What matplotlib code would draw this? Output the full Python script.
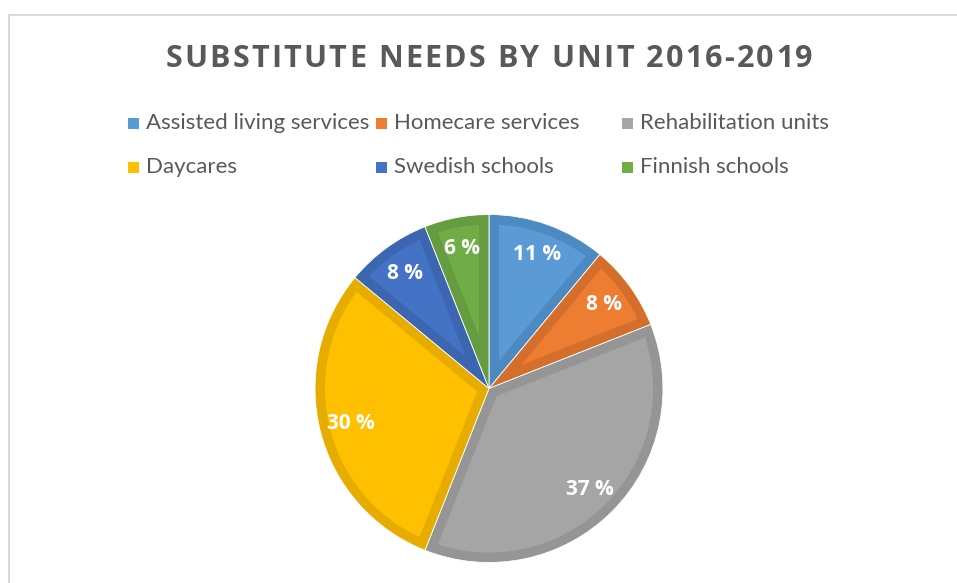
import matplotlib
matplotlib.use("Agg")
import numpy as np
import matplotlib.pyplot as plt
from matplotlib.patches import Rectangle, Polygon
from matplotlib.lines import Line2D

plt.rcParams['font.family'] = ['Lato', 'DejaVu Sans']

title = "SUBSTITUTE NEEDS BY UNIT 2016-2019"
categories = ["Assisted living services", "Homecare services", "Rehabilitation units",
              "Daycares", "Swedish schools", "Finnish schools"]
shares = [11, 8, 37, 30, 8, 6]
fill_colors = ["#5B9BD5", "#ED7D31", "#A5A5A5", "#FFC000", "#4472C4", "#70AD47"]
edge_colors = ["#4E8AC2", "#D46F2B", "#959595", "#E6AD00", "#3D66B0", "#659C40"]

W, H = 957, 583
fig = plt.figure(figsize=(W / 100, H / 100), dpi=100)
fig.patch.set_facecolor("white")
renderer = fig.canvas.get_renderer()

# chart frame (light gray)
fig.add_artist(Line2D([8.5 / W, 1.0], [1 - 14.5 / H, 1 - 14.5 / H], color="#D9D9D9", lw=1.5))
fig.add_artist(Line2D([8.5 / W, 8.5 / W], [0.0, 1 - 14.5 / H], color="#D9D9D9", lw=1.5))

# title with extra letter spacing, centred on the chart
title_font = dict(fontsize=22, fontweight="bold", color="#595959", family=["Open Sans", "DejaVu Sans"])
tracking = 2.2  # px between characters
probe = fig.text(0, 0, title, **title_font)
full_w = probe.get_window_extent(renderer).width
probe.remove()
total_w = full_w + tracking * (len(title) - 1)
x0 = 489 - total_w / 2
for i, ch in enumerate(title):
    if i:
        p = fig.text(0, 0, title[:i], **title_font)
        pre_w = p.get_window_extent(renderer).width
        p.remove()
    else:
        pre_w = 0.0
    fig.text((x0 + pre_w + tracking * i) / W, 1 - 59 / H, ch, ha="left", va="center", **title_font)

# legend grid: 3 columns, 2 rows
col_x = [128, 376, 622]
row_y = [123, 167]
for i, (name, col) in enumerate(zip(categories, fill_colors)):
    lx = col_x[i % 3]
    ly = row_y[i // 3]
    fig.add_artist(Rectangle((lx / W, 1 - (ly + 5.5) / H), 11 / W, 11 / H,
                             facecolor=col, edgecolor="none", transform=fig.transFigure))
    fig.text((lx + 18) / W, 1 - ly / H, name, ha="left", va="center",
             fontsize=16, color="#595959")

# pie
cx, cy, r = 489, 388.5, 174
ax = fig.add_axes([(cx - r) / W, 1 - (cy + r) / H, 2 * r / W, 2 * r / H])
wedges, texts = ax.pie(shares, colors=edge_colors, startangle=90, counterclock=False,
                       radius=1.0, labels=[f"{v} %" for v in shares], labeldistance=0.82,
                       wedgeprops=dict(linewidth=0.6, edgecolor="white"))

# lighter inner face of each slice, inset by a constant border width
border = 0.057
for w, fc in zip(wedges, fill_colors):
    t1, t2 = np.radians(w.theta1), np.radians(w.theta2)
    span = t2 - t1
    mid = 0.5 * (t1 + t2)
    ox, oy = w.center
    rel = border / np.sin(span / 2) * np.array([np.cos(mid), np.sin(mid)])
    r_in = w.r - border
    ends = []
    for th in (t1, t2):
        e = np.array([np.cos(th), np.sin(th)])
        b = rel @ e
        c = rel @ rel - r_in ** 2
        t = -b + np.sqrt(b * b - c)
        ends.append(rel + t * e)
    a1 = np.arctan2(ends[0][1], ends[0][0])
    a2 = np.arctan2(ends[1][1], ends[1][0])
    while a2 < a1:
        a2 += 2 * np.pi
    arc = np.linspace(a1, a2, 100)
    pts = np.vstack([[ox + rel[0], oy + rel[1]],
                     np.column_stack([ox + r_in * np.cos(arc), oy + r_in * np.sin(arc)])])
    ax.add_patch(Polygon(pts, closed=True, facecolor=fc, edgecolor="none",
                         zorder=w.get_zorder() + 0.1))

for t in texts:
    t.set_color("white")
    t.set_fontsize(15)
    t.set_fontweight("bold")
    t.set_family(["Open Sans", "DejaVu Sans"])
    t.set_ha("center")
    t.set_va("center")
    t.set_zorder(5)
ax.set_xlim(-1, 1)
ax.set_ylim(-1, 1)
ax.set_aspect("equal")
ax.axis("off")

fig.savefig("out.png", dpi=100)
